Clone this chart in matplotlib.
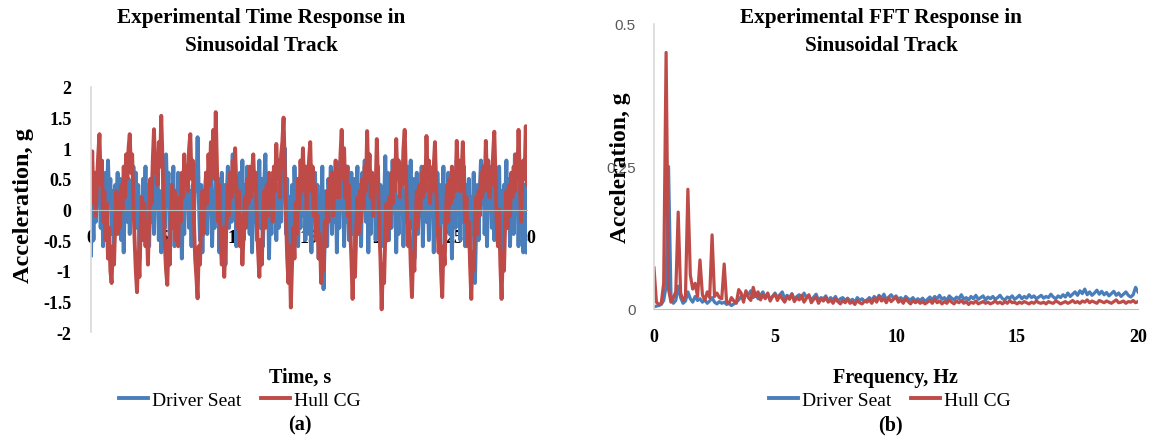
import matplotlib
matplotlib.use("Agg")
import matplotlib.pyplot as plt
import numpy as np

# ---- time response data (12 samples per second, 0 to 30 s) ----
samples_per_s = 12
hull_time = [
    0.2, 0.95, 0.1, 0.6, -0.1, 0.5, 0.9, 1.23, 0.4, 0.8, -0.2, 0.3,
    -0.5, 0.1, -0.8, -0.3, -1.0, -1.2, -0.6, -0.9, -0.2, 0.3, -0.4, 0.2,
    -0.3, 0.4, 0.0, 0.7, 0.2, 0.9, 0.5, 1.0, 1.23, 0.6, 0.9, 0.1,
    -0.5, -1.0, -1.35, -0.7, -1.1, -0.3, 0.2, -0.5, 0.1, -0.6, -0.2, -0.9,
    -0.2, 0.5, 0.1, 0.8, 1.31, 0.6, 0.9, 0.4, 1.1, 0.7, 1.53, 0.8,
    0.1, -0.6, -1.0, -1.23, -0.5, -0.9, -0.1, 0.4, -0.3, 0.3, -0.5, 0.0,
    -0.6, 0.2, -0.2, 0.6, 0.2, 0.9, 0.4, 0.7, 0.3, 1.0, 1.23, 0.5,
    0.8, -0.2, -0.8, -1.1, -1.45, -0.6, -0.9, -0.1, 0.3, -0.4, 0.2, 0.6,
    0.1, 0.9, 0.4, 1.1, 0.6, 1.3, 0.5, 1.59, 0.7, -0.2, 0.4, -0.5,
    -0.9, -0.3, -1.1, -0.6, -0.2, 0.4, -0.1, 0.6, 0.2, 0.8, 0.3, 1.0,
    0.4, -0.3, 0.3, -0.6, -0.1, -0.9, -0.4, 0.2, -0.3, 0.5, 0.1, 0.7,
    0.2, 0.6, 0.9, 0.3, 0.6, -0.2, -0.7, -1.1, -0.5, -0.9, -0.2, 0.3,
    -0.3, 0.4, -0.1, 0.6, 0.1, 0.5, -0.2, 0.7, 0.3, 1.07, 0.5, 0.8,
    0.2, 0.9, 1.1, 1.5, 0.7, -0.1, -0.8, -1.2, -0.6, -1.6, -0.9, -0.3,
    -0.8, 0.1, -0.4, 0.5, 0.0, 0.8, 0.3, 1.0, 0.4, 0.7, 0.0, 0.5,
    0.8, 1.1, 0.3, 0.7, -0.1, 0.4, -0.5, -0.1, -0.8, -0.4, -1.2, -0.7,
    -1.0, -0.2, -0.6, 0.3, -0.2, 0.5, 0.1, 0.6, -0.1, 0.4, 0.8, 0.2,
    0.6, 0.2, 0.9, 1.3, 0.5, 1.0, 0.2, 0.7, -0.1, 0.4, -0.3, -0.8,
    -1.46, -0.7, -1.1, -0.3, 0.2, -0.4, 0.3, -0.2, 0.5, 0.0, 0.7, 0.3,
    1.28, 0.5, 0.9, 0.2, 0.6, -0.1, 0.5, 0.3, 1.15, 0.4, -0.3, -0.8,
    -1.63, -0.9, -1.2, -0.4, 0.1, -0.5, 0.2, -0.3, 0.6, 0.1, 0.8, 0.3,
    1.15, 0.5, 0.8, 0.2, 0.7, 0.4, 1.0, 1.3, 0.6, -0.1, -0.6, -0.2,
    -0.9, -1.43, -0.7, -1.0, -0.2, 0.3, -0.3, 0.4, 0.0, 0.6, 0.2, 0.7,
    0.3, 1.2, 0.5, 0.8, 0.1, 0.6, 0.3, 0.7, 1.1, 0.4, -0.2, -0.7,
    -0.3, -1.0, -1.43, -0.6, -0.9, -0.1, 0.4, -0.2, 0.5, 0.1, 0.7, 0.2,
    0.6, 0.3, 1.12, 0.5, 0.8, 0.3, 0.6, 1.1, 0.4, -0.2, 0.2, -0.6,
    -0.2, -0.9, -1.46, -0.7, -1.0, -0.2, 0.2, -0.4, 0.3, -0.1, 0.6, 0.2,
    0.7, 0.3, 1.12, 0.5, 0.8, 0.2, 0.6, 0.4, 0.9, 1.27, 0.5, -0.2,
    -0.6, 0.0, -0.9, -1.46, -0.7, -1.0, -0.2, 0.3, -0.3, 0.4, -0.1, 0.6,
    0.2, 0.7, 0.3, 0.9, 0.5, 1.3, 0.6, -0.2, 0.4, 0.8, 0.5, 1.36,
    0.4,
]
seat_time = [
    -0.75, 0.4, -0.5, 0.3, -0.2, 0.6, 0.1, 0.5, -0.3, 0.4, -0.6, 0.2,
    0.6, -0.1, 0.8, 0.2, 0.5, -0.4, 0.3, -0.6, 0.4, 0.0, 0.6, -0.3,
    0.5, -0.5, 0.2, -0.7, 0.3, 0.6, -0.2, 0.5, -0.4, 0.3, -0.1, 0.7,
    0.1, 0.6, -0.3, 0.4, -0.8, 0.2, -0.5, 0.5, 0.0, 0.7, -0.2, 0.4,
    -0.6, 0.3, -0.2, 0.5, -0.4, 0.8, 0.2, 0.6, -0.5, 0.3, -0.7, 0.1,
    0.5, -0.3, 0.9, 0.1, 0.6, -0.5, 0.4, -0.2, 0.7, -0.6, 0.3, -0.4,
    0.6, 0.0, 0.4, -0.8, 0.2, -0.4, 0.6, 0.1, 0.5, -0.3, 0.3, -0.6,
    0.4, -0.2, 0.7, 0.3, 1.18, 0.2, -0.5, 0.4, -0.7, 0.3, -0.2, 0.6,
    -0.4, 0.5, 0.1, 0.7, -0.6, 0.3, -0.3, 0.8, 0.0, 0.5, -0.7, 0.2,
    0.6, -0.5, 0.4, -0.9, 0.2, 0.7, -0.3, 0.5, -0.2, 0.9, 0.1, 0.4,
    -0.6, 0.3, -0.4, 0.6, 0.0, 0.8, -0.5, 0.4, -0.2, 0.7, 0.2, -0.4,
    0.5, -0.7, 0.3, -0.2, 0.6, -0.5, 0.2, 0.8, -0.3, 0.5, -0.6, 0.4,
    0.9, -0.1, 0.5, -0.8, 0.3, -0.4, 0.6, 0.0, 0.7, -0.5, 0.4, -0.3,
    0.6, -0.2, 0.8, 0.3, 1.0, -0.4, 0.5, -0.9, 0.2, -1.1, 0.4, -0.3,
    0.7, 0.1, 0.5, -0.6, 0.3, -0.3, 0.8, -0.1, 0.6, -0.5, 0.2, 0.7,
    -0.4, 0.5, -0.7, 0.3, 0.0, 0.6, -0.5, 0.4, -0.8, 0.2, -0.3, 0.7,
    -1.3, -0.5, 0.3, -0.6, 0.5, 0.1, 0.7, -0.4, 0.4, -0.2, 0.6, -0.7,
    0.3, -0.3, 0.8, 0.0, 0.5, -0.6, 0.4, -0.2, 0.7, -0.5, 0.2, 0.6,
    -0.4, 0.5, -0.8, 0.2, 0.7, -0.3, 0.4, -0.6, 0.6, 0.1, 0.8, -0.2,
    0.5, -0.7, 0.3, -0.4, 0.6, 0.0, 0.5, -0.5, 0.2, 0.7, -0.3, 0.4,
    -0.6, 0.3, 0.1, 0.87, -0.2, 0.6, -0.5, 0.4, -0.3, 0.8, 0.0, 0.5,
    -0.7, 0.2, -0.4, 0.6, 0.1, 0.5, -0.6, 0.3, -0.2, 0.7, -0.5, 0.4,
    0.8, -0.3, 0.5, -0.8, 0.2, 0.6, -0.4, 0.4, -0.1, 0.7, -0.6, 0.3,
    0.6, -0.2, 0.4, -0.5, 0.7, 0.0, 0.5, -0.7, 0.3, -0.3, 0.6, 0.1,
    -0.5, 0.4, -0.2, 0.7, -0.6, 0.3, 0.1, 0.6, -0.4, 0.5, -0.8, 0.2,
    0.6, -0.3, 0.8, 0.1, 0.5, -0.5, 0.3, -0.2, 0.7, -0.6, 0.4, 0.0,
    0.5, -0.7, 0.2, -0.4, 0.6, -1.2, -0.3, 0.4, -0.5, 0.3, 0.8, 0.1,
    0.6, -0.4, 0.3, -0.6, 0.5, 0.0, 0.7, -0.3, 0.4, -0.5, 0.2, 0.6,
    -0.2, 0.7, -0.5, 0.3, -0.7, 0.4, 0.1, 0.8, -0.3, 0.5, -0.6, 0.3,
    0.6, -0.4, 0.9, 0.2, 0.5, -0.6, 0.3, -0.2, 0.7, -0.7, 0.4, -0.5,
    -0.7,
]

# ---- FFT data (every 0.1 Hz from 0 to 20 Hz) ----
freq_step = 0.1
hull_fft = [
    0.072, 0.012, 0.008, 0.010, 0.045, 0.450, 0.035, 0.012, 0.020, 0.030,
    0.170, 0.028, 0.015, 0.022, 0.210, 0.060, 0.035, 0.045, 0.022, 0.086,
    0.025, 0.015, 0.030, 0.020, 0.130, 0.022, 0.028, 0.020, 0.018, 0.079,
    0.012, 0.010, 0.020, 0.014, 0.010, 0.034, 0.028, 0.012, 0.032, 0.020,
    0.015, 0.038, 0.022, 0.030, 0.016, 0.025, 0.018, 0.028, 0.014, 0.022,
    0.026, 0.015, 0.024, 0.018, 0.012, 0.022, 0.017, 0.026, 0.013, 0.020,
    0.016, 0.024, 0.012, 0.019, 0.025, 0.011, 0.017, 0.021, 0.010, 0.018,
    0.014, 0.020, 0.012, 0.016, 0.010, 0.018, 0.013, 0.009, 0.015, 0.011,
    0.017, 0.010, 0.013, 0.008, 0.015, 0.011, 0.009, 0.014, 0.012, 0.016,
    0.010, 0.019, 0.012, 0.022, 0.014, 0.018, 0.011, 0.020, 0.013, 0.017,
    0.021, 0.012, 0.016, 0.010, 0.018, 0.013, 0.009, 0.015, 0.011, 0.014,
    0.010, 0.013, 0.009, 0.012, 0.015, 0.010, 0.017, 0.011, 0.014, 0.009,
    0.013, 0.010, 0.016, 0.012, 0.009, 0.014, 0.011, 0.015, 0.010, 0.013,
    0.008, 0.012, 0.010, 0.014, 0.009, 0.011, 0.013, 0.010, 0.012, 0.009,
    0.011, 0.014, 0.010, 0.012, 0.009, 0.013, 0.010, 0.015, 0.011, 0.012,
    0.009, 0.012, 0.010, 0.013, 0.011, 0.009, 0.012, 0.010, 0.014, 0.011,
    0.010, 0.012, 0.009, 0.013, 0.011, 0.010, 0.014, 0.012, 0.009, 0.011,
    0.013, 0.010, 0.012, 0.015, 0.011, 0.013, 0.010, 0.014, 0.012, 0.016,
    0.011, 0.014, 0.012, 0.010, 0.015, 0.013, 0.011, 0.014, 0.012, 0.010,
    0.013, 0.016, 0.011, 0.012, 0.014, 0.010, 0.013, 0.012, 0.015, 0.011,
    0.013,
]
seat_fft = [
    0.004, 0.005, 0.006, 0.008, 0.015, 0.040, 0.250, 0.025, 0.010, 0.015,
    0.040, 0.020, 0.010, 0.014, 0.030, 0.018, 0.012, 0.022, 0.015, 0.018,
    0.012, 0.016, 0.010, 0.014, 0.020, 0.012, 0.009, 0.013, 0.010, 0.012,
    0.008, 0.010, 0.006, 0.009, 0.012, 0.016, 0.022, 0.018, 0.030, 0.025,
    0.032, 0.020, 0.028, 0.018, 0.024, 0.030, 0.020, 0.026, 0.017, 0.022,
    0.028, 0.020, 0.025, 0.030, 0.018, 0.024, 0.020, 0.027, 0.016, 0.022,
    0.025, 0.018, 0.028, 0.020, 0.023, 0.016, 0.021, 0.026, 0.015, 0.020,
    0.018, 0.023, 0.014, 0.020, 0.016, 0.022, 0.013, 0.018, 0.020, 0.015,
    0.019, 0.014, 0.017, 0.012, 0.020, 0.015, 0.018, 0.013, 0.016, 0.020,
    0.015, 0.022, 0.017, 0.024, 0.018, 0.026, 0.016, 0.021, 0.025, 0.019,
    0.023, 0.017, 0.020, 0.015, 0.022, 0.018, 0.016, 0.020, 0.014, 0.018,
    0.015, 0.019, 0.013, 0.017, 0.021, 0.016, 0.022, 0.018, 0.024, 0.017,
    0.020, 0.015, 0.023, 0.019, 0.016, 0.021, 0.018, 0.025, 0.017, 0.020,
    0.016, 0.022, 0.018, 0.024, 0.017, 0.020, 0.023, 0.016, 0.021, 0.018,
    0.022, 0.017, 0.020, 0.024, 0.018, 0.016, 0.021, 0.019, 0.023, 0.017,
    0.020, 0.024, 0.018, 0.022, 0.019, 0.025, 0.020, 0.023, 0.018, 0.021,
    0.024, 0.019, 0.022, 0.020, 0.026, 0.021, 0.018, 0.023, 0.020, 0.025,
    0.021, 0.028, 0.022, 0.026, 0.030, 0.024, 0.032, 0.027, 0.035, 0.025,
    0.030, 0.024, 0.028, 0.033, 0.026, 0.031, 0.025, 0.029, 0.023, 0.027,
    0.031, 0.024, 0.028, 0.022, 0.026, 0.030, 0.024, 0.021, 0.025, 0.038,
    0.030,
]

time_ticks = [0, 5, 10, 15, 20, 25, 30]
accel_ticks = [-2, -1.5, -1, -0.5, 0, 0.5, 1, 1.5, 2]
freq_ticks = [0, 5, 10, 15, 20]
fft_ticks = [0, 0.25, 0.5]
fft_tick_labels = ["0", "0.25", "0.5"]

BLUE = "#4a7ebb"
RED = "#be4b48"
SERIF = "Liberation Serif"

t = np.arange(len(hull_time)) / samples_per_s
f = np.arange(len(hull_fft)) * freq_step

fig = plt.figure(figsize=(11.5, 4.39), dpi=100)

# ---------------- (a) time response ----------------
ax1 = fig.add_axes([91 / 1150, 1 - 333 / 439, 436 / 1150, 245 / 439])
l1, = ax1.plot(t, seat_time, color=BLUE, lw=2.8, label="Driver Seat")
l2, = ax1.plot(t, hull_time, color=RED, lw=2.8, label="Hull CG")
ax1.set_xlim(0, 30)
ax1.set_ylim(-2, 2)
ax1.set_xticks(time_ticks)
ax1.set_yticks(accel_ticks)
ax1.set_yticklabels([f"{v:g}" for v in accel_ticks])
for s in ("top", "right"):
    ax1.spines[s].set_visible(False)
ax1.spines["left"].set_color("#d9d9d9")
ax1.spines["left"].set_linewidth(1.2)
ax1.spines["bottom"].set_position(("data", 0))
ax1.spines["bottom"].set_color("#bfbfbf")
ax1.tick_params(axis="both", length=0)
ax1.tick_params(axis="x", pad=14)
ax1.tick_params(axis="y", pad=14)
for lab in ax1.get_xticklabels() + ax1.get_yticklabels():
    lab.set_fontfamily(SERIF)
    lab.set_fontweight("bold")
    lab.set_fontsize(13)
ax1.set_ylabel("Acceleration, g", family=SERIF, weight="bold", fontsize=17.5)
ax1.yaxis.set_label_coords(-57 / 436, 0.52)

# ---------------- (b) FFT response ----------------
ax2 = fig.add_axes([654 / 1150, 1 - 310 / 439, 484 / 1150, 285 / 439])
ax2.plot(f, seat_fft, color=BLUE, lw=2.3)
ax2.plot(f, hull_fft, color=RED, lw=2.3)
ax2.set_xlim(0, 20)
ax2.set_ylim(0, 0.5)
ax2.set_xticks(freq_ticks)
ax2.set_yticks(fft_ticks)
ax2.set_yticklabels(fft_tick_labels)
for s in ("top", "right"):
    ax2.spines[s].set_visible(False)
ax2.spines["left"].set_color("#d9d9d9")
ax2.spines["left"].set_linewidth(1.2)
ax2.spines["bottom"].set_color("#bfbfbf")
ax2.tick_params(axis="both", length=0)
ax2.tick_params(axis="x", pad=14)
ax2.tick_params(axis="y", pad=13, labelcolor="#595959")
for lab in ax2.get_xticklabels():
    lab.set_fontfamily(SERIF)
    lab.set_fontweight("bold")
    lab.set_fontsize(13)
for lab in ax2.get_yticklabels():
    lab.set_fontfamily("Liberation Sans")
    lab.set_fontsize(11)
ax2.set_ylabel("Acceleration, g", family=SERIF, weight="bold", fontsize=17)
ax2.yaxis.set_label_coords(-23 / 484, 0.5)

# ---------------- titles, labels, legends ----------------
title_kw = dict(family=SERIF, weight="bold", fontsize=15.3, ha="center",
                va="center", linespacing=1.5)
fig.text(261 / 1150, 1 - 32 / 439,
         "Experimental Time Response in\nSinusoidal Track", **title_kw)
fig.text(881 / 1150, 1 - 32 / 439,
         "Experimental FFT Response in\nSinusoidal Track", **title_kw)

lab_kw = dict(family=SERIF, weight="bold", fontsize=14.5, ha="center", va="center")
fig.text(300 / 1150, 1 - 378 / 439, "Time, s", **lab_kw)
fig.text(895 / 1150, 1 - 378 / 439, "Frequency, Hz", **lab_kw)
fig.text(300 / 1150, 1 - 425 / 439, "(a)", **lab_kw)
fig.text(890 / 1150, 1 - 425 / 439, "(b)", **lab_kw)

for cx in (240 / 1150, 890 / 1150):
    fig.legend(handles=[l1, l2], loc="center", bbox_to_anchor=(cx, 1 - 401 / 439),
               ncol=2, frameon=False, handlelength=1.5, handletextpad=0.2,
               columnspacing=1.0, prop={"family": SERIF, "size": 14})

fig.savefig("out.png", dpi=100)
